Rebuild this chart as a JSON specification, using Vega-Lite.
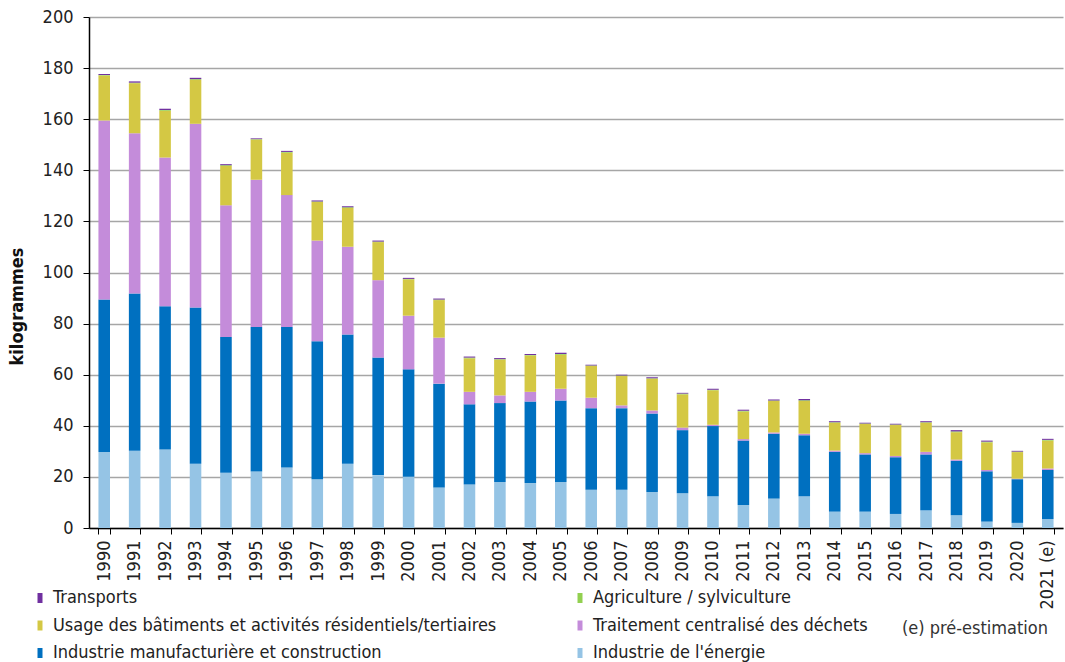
{
  "$schema": "https://vega.github.io/schema/vega-lite/v6.json",
  "width": 974,
  "height": 511,
  "autosize": "none",
  "padding": {"left": 89, "top": 17, "right": 2, "bottom": 134},
  "background": "white",
  "config": {
    "font": "DejaVu Sans Condensed",
    "view": {"stroke": null}
  },
  "title": {
    "text": "(e) pré-estimation",
    "orient": "bottom",
    "anchor": "end",
    "frame": "group",
    "fontSize": 18,
    "fontWeight": "normal",
    "color": "#333333",
    "offset": 0,
    "dx": -15,
    "dy": -42
  },
  "datasets": {
    "series": [
      {"code": "energie", "nom": "Industrie de l'énergie", "rang": 1},
      {"code": "manuf", "nom": "Industrie manufacturière et construction", "rang": 2},
      {"code": "dechets", "nom": "Traitement centralisé des déchets", "rang": 3},
      {"code": "batiments", "nom": "Usage des bâtiments et activités résidentiels/tertiaires", "rang": 4},
      {"code": "agriculture", "nom": "Agriculture / sylviculture", "rang": 5},
      {"code": "transports", "nom": "Transports", "rang": 6}
    ]
  },
  "data": {
    "values": [
      {"annee": "1990", "energie": 29.7, "manuf": 59.7, "dechets": 70.1, "batiments": 17.6, "agriculture": 0.2, "transports": 0.4},
      {"annee": "1991", "energie": 30.2, "manuf": 61.6, "dechets": 62.7, "batiments": 19.6, "agriculture": 0.2, "transports": 0.5},
      {"annee": "1992", "energie": 30.7, "manuf": 56.1, "dechets": 58.2, "batiments": 18.3, "agriculture": 0.3, "transports": 0.5},
      {"annee": "1993", "energie": 25.1, "manuf": 61.2, "dechets": 71.9, "batiments": 17.2, "agriculture": 0.3, "transports": 0.5},
      {"annee": "1994", "energie": 21.6, "manuf": 53.2, "dechets": 51.5, "batiments": 15.4, "agriculture": 0.3, "transports": 0.4},
      {"annee": "1995", "energie": 22.1, "manuf": 56.6, "dechets": 57.6, "batiments": 15.7, "agriculture": 0.2, "transports": 0.3},
      {"annee": "1996", "energie": 23.7, "manuf": 55.0, "dechets": 51.6, "batiments": 16.6, "agriculture": 0.3, "transports": 0.4},
      {"annee": "1997", "energie": 19.1, "manuf": 54.0, "dechets": 39.4, "batiments": 15.1, "agriculture": 0.2, "transports": 0.4},
      {"annee": "1998", "energie": 25.1, "manuf": 50.6, "dechets": 34.4, "batiments": 15.1, "agriculture": 0.3, "transports": 0.4},
      {"annee": "1999", "energie": 20.7, "manuf": 46.0, "dechets": 30.3, "batiments": 14.9, "agriculture": 0.2, "transports": 0.4},
      {"annee": "2000", "energie": 20.1, "manuf": 42.0, "dechets": 21.0, "batiments": 14.2, "agriculture": 0.2, "transports": 0.4},
      {"annee": "2001", "energie": 15.9, "manuf": 40.6, "dechets": 18.0, "batiments": 14.7, "agriculture": 0.2, "transports": 0.4},
      {"annee": "2002", "energie": 17.0, "manuf": 31.4, "dechets": 4.9, "batiments": 13.1, "agriculture": 0.3, "transports": 0.4},
      {"annee": "2003", "energie": 18.0, "manuf": 30.9, "dechets": 3.0, "batiments": 14.0, "agriculture": 0.2, "transports": 0.4},
      {"annee": "2004", "energie": 17.6, "manuf": 31.9, "dechets": 3.8, "batiments": 14.2, "agriculture": 0.2, "transports": 0.4},
      {"annee": "2005", "energie": 18.0, "manuf": 31.9, "dechets": 4.6, "batiments": 13.3, "agriculture": 0.3, "transports": 0.5},
      {"annee": "2006", "energie": 15.0, "manuf": 31.9, "dechets": 4.1, "batiments": 12.4, "agriculture": 0.2, "transports": 0.3},
      {"annee": "2007", "energie": 15.0, "manuf": 31.9, "dechets": 1.1, "batiments": 11.5, "agriculture": 0.2, "transports": 0.3},
      {"annee": "2008", "energie": 14.1, "manuf": 30.7, "dechets": 1.2, "batiments": 12.4, "agriculture": 0.2, "transports": 0.4},
      {"annee": "2009", "energie": 13.6, "manuf": 24.7, "dechets": 1.0, "batiments": 13.0, "agriculture": 0.3, "transports": 0.3},
      {"annee": "2010", "energie": 12.4, "manuf": 27.5, "dechets": 0.5, "batiments": 13.5, "agriculture": 0.2, "transports": 0.4},
      {"annee": "2011", "energie": 9.0, "manuf": 25.2, "dechets": 0.6, "batiments": 10.8, "agriculture": 0.3, "transports": 0.4},
      {"annee": "2012", "energie": 11.5, "manuf": 25.4, "dechets": 0.5, "batiments": 12.3, "agriculture": 0.2, "transports": 0.4},
      {"annee": "2013", "energie": 12.4, "manuf": 23.9, "dechets": 0.6, "batiments": 12.8, "agriculture": 0.3, "transports": 0.5},
      {"annee": "2014", "energie": 6.4, "manuf": 23.4, "dechets": 0.5, "batiments": 10.9, "agriculture": 0.2, "transports": 0.4},
      {"annee": "2015", "energie": 6.4, "manuf": 22.4, "dechets": 0.5, "batiments": 11.4, "agriculture": 0.2, "transports": 0.3},
      {"annee": "2016", "energie": 5.5, "manuf": 22.2, "dechets": 0.5, "batiments": 12.1, "agriculture": 0.2, "transports": 0.3},
      {"annee": "2017", "energie": 6.9, "manuf": 21.9, "dechets": 1.0, "batiments": 11.4, "agriculture": 0.2, "transports": 0.4},
      {"annee": "2018", "energie": 5.0, "manuf": 21.3, "dechets": 0.5, "batiments": 10.7, "agriculture": 0.3, "transports": 0.5},
      {"annee": "2019", "energie": 2.5, "manuf": 19.7, "dechets": 0.5, "batiments": 10.8, "agriculture": 0.3, "transports": 0.4},
      {"annee": "2020", "energie": 2.0, "manuf": 17.1, "dechets": 0.2, "batiments": 10.4, "agriculture": 0.2, "transports": 0.3},
      {"annee": "2021 (e)", "energie": 3.5, "manuf": 19.2, "dechets": 0.6, "batiments": 10.9, "agriculture": 0.3, "transports": 0.4}
    ]
  },
  "transform": [
    {"fold": ["energie", "manuf", "dechets", "batiments", "agriculture", "transports"], "as": ["code", "valeur"]},
    {"lookup": "code", "from": {"data": {"name": "series"}, "key": "code", "fields": ["nom", "rang"]}}
  ],
  "mark": {"type": "bar"},
  "encoding": {
    "x": {
      "field": "annee",
      "type": "nominal",
      "sort": null,
      "scale": {"paddingInner": 0.62, "paddingOuter": 0.31},
      "axis": {
        "title": null,
        "labelAngle": -90,
        "labelFontSize": 18,
        "labelColor": "#222222",
        "labelPadding": 6,
        "tickBand": "extent",
        "tickSize": 6,
        "tickColor": "#000000",
        "domainColor": "#000000",
        "domainWidth": 1.5,
        "grid": false
      }
    },
    "y": {
      "field": "valeur",
      "type": "quantitative",
      "stack": "zero",
      "scale": {"domain": [0, 200], "nice": false},
      "axis": {
        "title": "kilogrammes",
        "titleFontSize": 18,
        "titleFontWeight": "bold",
        "titleColor": "#111111",
        "titlePadding": 16,
        "titleY": 289,
        "values": [0, 20, 40, 60, 80, 100, 120, 140, 160, 180, 200],
        "labelFontSize": 18,
        "labelColor": "#222222",
        "labelPadding": 10,
        "tickSize": 6,
        "tickColor": "#000000",
        "domainColor": "#000000",
        "domainWidth": 1.5,
        "gridColor": "#A6A6A6",
        "gridWidth": 1.5
      }
    },
    "color": {
      "field": "nom",
      "type": "nominal",
      "scale": {
        "domain": [
          "Transports",
          "Usage des bâtiments et activités résidentiels/tertiaires",
          "Industrie manufacturière et construction",
          "Agriculture / sylviculture",
          "Traitement centralisé des déchets",
          "Industrie de l'énergie"
        ],
        "range": ["#7030A0", "#D4C844", "#0070C0", "#92D050", "#C48CDA", "#95C4E5"]
      },
      "legend": {
        "title": null,
        "orient": "none",
        "legendX": -58,
        "legendY": 572,
        "columns": 2,
        "columnPadding": 74,
        "rowPadding": 9.5,
        "labelFontSize": 18,
        "labelLimit": 700,
        "labelColor": "#222222",
        "labelOffset": 4,
        "symbolType": "M-0.5,-1H0.5V1H-0.5Z",
        "symbolSize": 100,
        "symbolStrokeWidth": 0
      }
    },
    "order": {"field": "rang", "type": "quantitative", "sort": "ascending"}
  }
}
